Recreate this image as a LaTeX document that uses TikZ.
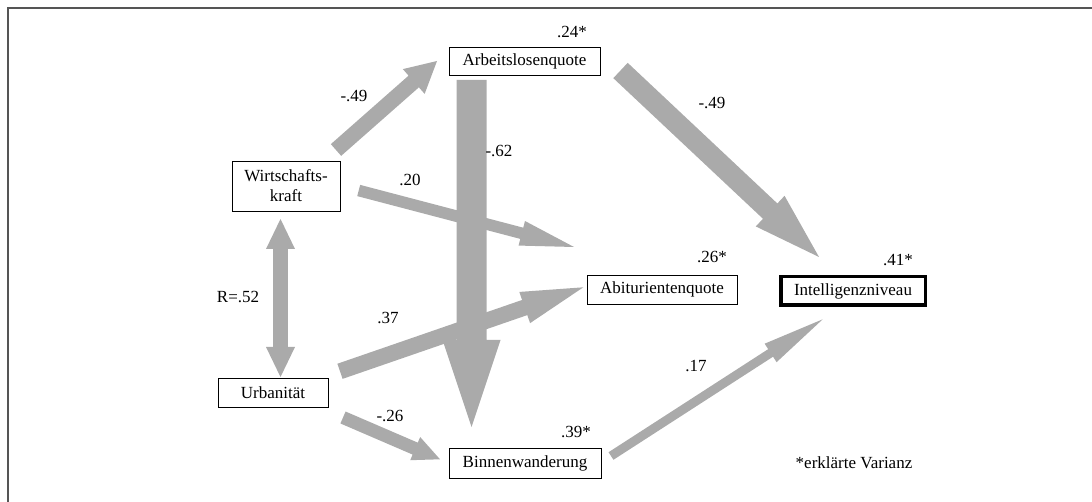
\documentclass[tikz,border=0pt]{standalone}
\usepackage{fontspec}
\setmainfont{Liberation Serif}
\usetikzlibrary{calc}
\definecolor{arrowgray}{RGB}{170,170,170}
\definecolor{framegray}{RGB}{85,85,85}
\newcommand\fatarrow[5]{%
  \coordinate (faS) at #1;
  \coordinate (faE) at #2;
  \coordinate (faH) at ($(faE)!#5!(faS)$);
  \fill[arrowgray] ($(faS)!#3!90:(faE)$) -- ($(faH)!#3!-90:(faS)$) -- ($(faH)!#4!-90:(faS)$) -- (faE)
    -- ($(faH)!#4!90:(faS)$) -- ($(faH)!#3!90:(faS)$) -- ($(faS)!#3!-90:(faE)$) -- cycle;
}
\newcommand\dblfatarrow[5]{%
  \coordinate (dA) at #1;
  \coordinate (dB) at #2;
  \coordinate (dHa) at ($(dA)!#5!(dB)$);
  \coordinate (dHb) at ($(dB)!#5!(dA)$);
  \fill[arrowgray] (dA) -- ($(dHa)!#4!90:(dB)$) -- ($(dHa)!#3!90:(dB)$) -- ($(dHb)!#3!-90:(dA)$)
    -- ($(dHb)!#4!-90:(dA)$) -- (dB) -- ($(dHb)!#4!90:(dA)$) -- ($(dHb)!#3!90:(dA)$)
    -- ($(dHa)!#3!-90:(dB)$) -- ($(dHa)!#4!-90:(dB)$) -- cycle;
}
\tikzset{
  box/.style={draw=black, line width=0.9pt, fill=white, inner sep=0pt, align=center},
  lbl/.style={inner sep=0pt, anchor=center},
}
\begin{document}
\begin{tikzpicture}[x=1pt, y=-1pt, font=\fontsize{17}{20}\selectfont]
\useasboundingbox (0,0) rectangle (1092,502);
\draw[framegray, line width=1.3pt] (8,502) -- (8,8) -- (1092,8);

% nodes
\node[box, minimum width=151pt, minimum height=28pt] (aq) at (524.5,61) {Arbeitslosenquote};
\node[box, minimum width=108pt, minimum height=50pt] (wk) at (286,186) {Wirtschafts-\\kraft};
\node[box, minimum width=110pt, minimum height=29pt] (ur) at (273,392.5) {Urbanität};
\node[box, minimum width=152pt, minimum height=30pt] (bw) at (525,463) {Binnenwanderung};
\node[box, minimum width=150pt, minimum height=29pt] (ab) at (662,289.5) {Abiturientenquote};
\node[box, line width=3.5pt, minimum width=144.5pt, minimum height=28.5pt] (in) at (853,291) {Intelligenzniveau};

% connectors
\fatarrow{($(wk)+(50,-36)$)}{($(aq)+(-87.5,0)$)}{7.8pt}{16.5pt}{31pt}
\fatarrow{($(aq)+(96,9.5)$)}{($(in)+(-34,-34)$)}{10.5pt}{21pt}{67pt}
\fatarrow{($(wk)+(72.7,4.5)$)}{($(ab)+(-88,-42.5)$)}{5.8pt}{12.7pt}{54pt}
\fatarrow{($(ur)+(67,-21.2)$)}{($(ab)+(-78.7,-2.2)$)}{8pt}{16.5pt}{62pt}
\fatarrow{($(aq)+(-53,19)$)}{($(bw)+(-53.5,-36)$)}{15pt}{29pt}{87pt}
\fatarrow{($(ur)+(70,25)$)}{($(bw)+(-85,-3.7)$)}{6.5pt}{12.6pt}{27pt}
\fatarrow{($(bw)+(86,-7)$)}{($(in)+(-30.3,28.3)$)}{4.5pt}{11pt}{62pt}
\dblfatarrow{($(wk)+(-5.5,33)$)}{($(ur)+(7.5,-15.5)$)}{7.3pt}{14.5pt}{30pt}

% labels
\node[lbl] (l1) at (572,32) {.24*};
\node[lbl] (l2) at (354,96) {-.49};
\node[lbl] (l3) at (499,151) {-.62};
\node[lbl] (l4) at (410,180) {.20};
\node[lbl] (l5) at (238,297) {R=.52};
\node[lbl] (l6) at (388,318) {.37};
\node[lbl] (l7) at (390,416) {-.26};
\node[lbl] (l8) at (576,432) {.39*};
\node[lbl] (l9) at (712,103) {-.49};
\node[lbl] (l10) at (712,257) {.26*};
\node[lbl] (l11) at (898,260) {.41*};
\node[lbl] (l12) at (696,366) {.17};
\node[lbl] (l13) at (854,463) {*erklärte Varianz};
\end{tikzpicture}
\end{document}
